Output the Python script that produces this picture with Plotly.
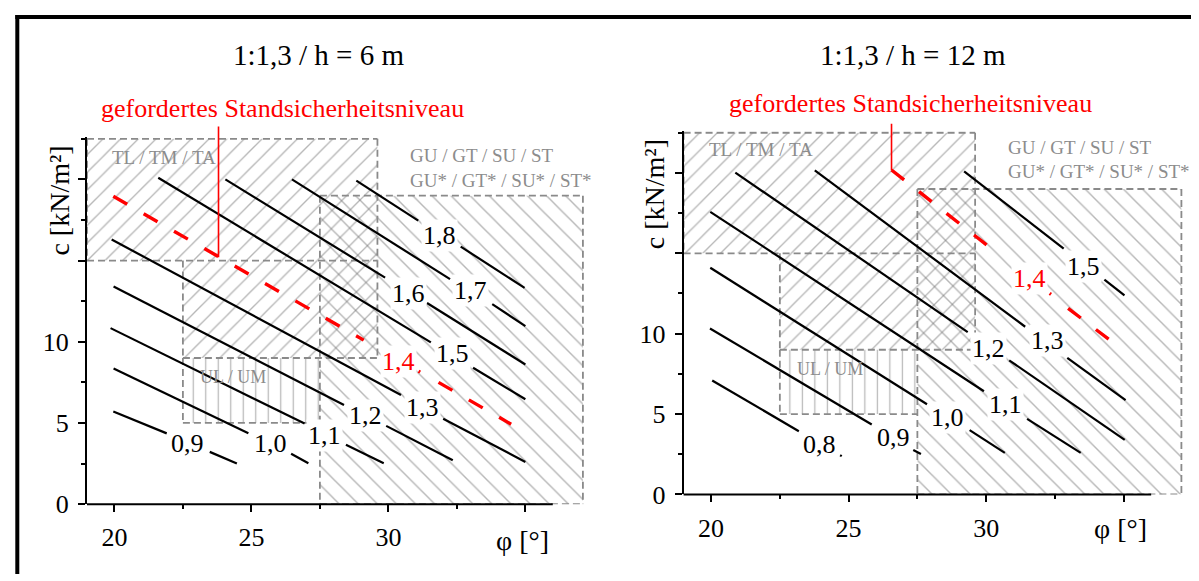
import plotly.graph_objects as go

# ---------------- data ----------------
# soil-group regions (identical in both panels): phi range [deg], c range [kN/m2]
REGION_PHI0 = [27.5, 19.0, 22.5, 22.5]
REGION_PHI1 = [37.1, 29.6, 29.6, 27.5]
REGION_C0 = [0.0, 15.0, 9.0, 5.0]
REGION_C1 = [19.0, 22.5, 15.0, 9.0]
REGION_HATCH = ['\\', '/', '/', '|']
REGION_SIDES = ['tlrb', 'tlrb', 'lrb', 'lb']   # dashed border sides drawn

# panel 1: 1:1,3 / h = 6 m  (isolines of the safety factor, None = gap for the label)
FS_6 = ['0,9', '1,0', '1,1', '1,2', '1,3', '1,4', '1,5', '1,6', '1,7', '1,8']
PHI_6 = [
    [19.96, 21.91, None, 23.48, 24.47],
    [19.97, 24.89, None, 26.45, 27.08],
    [19.86, 26.94, None, 28.45, 29.83],
    [19.97, 28.38, None, 29.92, 32.35],
    [19.90, 30.46, None, 32.00, 35.00],
    [19.96, 29.10, None, 31.10, 31.16, None, 31.83, 34.48],
    [21.60, 31.55, None, 33.09, 35.00],
    [24.05, 29.88, None, 31.41, 35.00],
    [26.48, 32.25, None, 33.79, 35.00],
    [28.83, 31.09, None, 32.64, 34.97],
]
C_6 = [
    [5.70, 4.36, None, 3.22, 2.50],
    [8.36, 4.36, None, 3.10, 2.52],
    [10.84, 4.96, None, 3.66, 2.52],
    [13.41, 6.10, None, 4.82, 2.70],
    [16.30, 6.72, None, 5.26, 2.60],
    [18.96, 10.10, None, 8.19, 8.13, None, 7.50, 4.92],
    [20.10, 9.96, None, 8.40, 6.46],
    [20.00, 13.95, None, 12.39, 8.60],
    [20.00, 13.86, None, 12.32, 10.96],
    [19.92, 17.46, None, 15.86, 13.32],
]
LBL_PHI_6 = [22.68, 25.68, 27.68, 29.18, 31.23, 30.37, 32.35, 30.74, 33.01, 31.85]
LBL_C_6 = [3.76, 3.76, 4.23, 5.45, 5.98, 8.76, 9.30, 13.00, 13.15, 16.56]
RED_6 = 5
POINTER_6 = dict(phi=23.8, c_top=23.35, c_bottom=15.2)

# panel 2: 1:1,3 / h = 12 m
FS_12 = ['0,8', '0,9', '1,0', '1,1', '1,2', '1,3', '1,4', '1,5']
PHI_12 = [
    [20.04, 23.19, None, 24.69, 24.75],
    [19.96, 25.84, None, 27.35, 27.63],
    [19.97, 27.85, None, 29.40, 30.68],
    [19.97, 29.92, None, 31.49, 33.44],
    [20.88, 29.33, None, 30.84, 35.04],
    [23.77, 31.42, None, 32.95, 35.07],
    [26.56, 30.25, None, 32.31, 32.36, None, 32.98, 34.58],
    [29.20, 32.82, None, 34.30, 35.03],
]
C_12 = [
    [7.09, 3.93, None, 2.44, 2.38],
    [10.32, 4.35, None, 2.76, 2.52],
    [14.10, 5.61, None, 4.00, 2.58],
    [17.58, 6.42, None, 4.70, 2.58],
    [20.02, 10.10, None, 8.34, 3.39],
    [20.16, 10.43, None, 8.50, 5.86],
    [20.18, 15.21, None, 12.51, 12.45, None, 11.58, 9.49],
    [20.10, 15.29, None, 13.36, 12.38],
]
LBL_PHI_12 = [23.95, 26.62, 28.60, 30.72, 30.10, 32.22, 31.56, 33.55]
LBL_C_12 = [3.09, 3.55, 4.78, 5.61, 9.05, 9.60, 13.46, 14.15]
RED_12 = 6
POINTER_12 = dict(phi=26.56, c_top=23.15, c_bottom=20.18)

X_TICKS = [20, 25, 30, 35]
X_TICKTEXT = ['20', '25', '30', '']
X_MINOR = [22.5, 27.5, 32.5]
Y_TICKS = [0, 5, 10, 15, 20]
Y_TICKTEXT = ['0', '5', '10', '', '']
Y_MINOR = [2.5, 7.5, 12.5, 17.5, 22.5]

# ---------------- styling ----------------
W, H = 1199, 581
SERIF = 'Liberation Serif, Times New Roman, serif'
GRAY_TXT = '#8c8c8c'
HATCH = '#6f6f6f'
BORDER = '#8a8a8a'
RED = '#ff0000'
X_RANGE = [19, 37.3]
X_AXIS_END = 36
Y_RANGE = [0, 22.6]

# pixel placement of the plot areas and texts
PANELS = [
    dict(xa='x', ya='y', px0=79.0, px1=580.4, py0=509.3, py1=132.6,
         title='1:1,3 / h = 6 m', title_px=(310, 48), req_px=(274.8, 103.3),
         xt_px=(514.7, 546.7), yt_px=(51.7, 198),
         phis=PHI_6, cs=C_6, labels=FS_6, lphi=LBL_PHI_6, lc=LBL_C_6,
         red=RED_6, pointer=POINTER_6,
         gu_c=21.45, gu2_c=19.95, tl_c=21.36, ul_c=7.8),
    dict(xa='x2', ya='y2', px0=675.6, px1=1178.9, py0=499.3, py1=126.4,
         title='1:1,3 / h = 12 m', title_px=(905.4, 48), req_px=(902.9, 98.3),
         xt_px=(1112.7, 534), yt_px=(646.7, 191.5),
         phis=PHI_12, cs=C_12, labels=FS_12, lphi=LBL_PHI_12, lc=LBL_C_12,
         red=RED_12, pointer=POINTER_12,
         gu_c=21.58, gu2_c=20.08, tl_c=21.43, ul_c=7.79),
]

HATCH_SIZE = {'/': 12.5, '\\': 13.5, '|': 12.5}
HATCH_SOL = {'/': 0.11, '\\': 0.105, '|': 0.1}

fig = go.Figure()
annotations = []
shapes = []


def paper(px, py):
    return px / W, 1 - py / H


for p in PANELS:
    xa, ya = p['xa'], p['ya']
    # hatched regions (fill only)
    for p0, p1, c0, c1, h in zip(REGION_PHI0, REGION_PHI1, REGION_C0, REGION_C1, REGION_HATCH):
        fig.add_trace(go.Scatter(
            x=[p0, p1, p1, p0, p0], y=[c0, c0, c1, c1, c0],
            mode='lines', fill='toself', fillcolor='rgba(0,0,0,0)',
            fillpattern=dict(shape=h, fgcolor=HATCH, bgcolor='rgba(0,0,0,0)',
                             size=HATCH_SIZE[h], solidity=HATCH_SOL[h]),
            line=dict(width=0, color='rgba(0,0,0,0)'),
            xaxis=xa, yaxis=ya, hoverinfo='skip', showlegend=False))
    # dashed region borders
    for p0, p1, c0, c1, sides in zip(REGION_PHI0, REGION_PHI1, REGION_C0, REGION_C1, REGION_SIDES):
        bx, by = [], []
        if 't' in sides:
            bx += [p0, p1, None]; by += [c1, c1, None]
        if 'r' in sides:
            bx += [p1, p1, None]; by += [c1, c0, None]
        if 'b' in sides:
            bx += [p0, p1, None]; by += [c0, c0, None]
        if 'l' in sides:
            bx += [p0, p0, None]; by += [c1, c0, None]
        fig.add_trace(go.Scatter(
            x=bx, y=by, mode='lines', connectgaps=False,
            line=dict(color=BORDER, width=1.8, dash='7px,4px'),
            xaxis=xa, yaxis=ya, hoverinfo='skip', showlegend=False))
    # isolines
    for i, (ph, cc) in enumerate(zip(p['phis'], p['cs'])):
        red = (i == p['red'])
        fig.add_trace(go.Scatter(
            x=ph, y=cc, mode='lines', connectgaps=False,
            line=dict(color=RED if red else 'black', width=3.4 if red else 2.2,
                      dash='16px,19px' if red else 'solid'),
            xaxis=xa, yaxis=ya, hoverinfo='skip', showlegend=False))
    # isoline labels
    for i, (t, lx, ly) in enumerate(zip(p['labels'], p['lphi'], p['lc'])):
        red = (i == p['red'])
        annotations.append(dict(
            x=lx, y=ly, xref=xa, yref=ya, text=t, showarrow=False,
            xanchor='center', yanchor='middle',
            font=dict(family=SERIF, size=26, color=RED if red else 'black'),
            bgcolor='white', borderpad=1))
    # region texts
    annotations += [
        dict(x=30.72, y=p['gu_c'], xref=xa, yref=ya, text='GU / GT / SU / ST',
             xanchor='left', yanchor='middle', showarrow=False,
             font=dict(family=SERIF, size=19, color=GRAY_TXT)),
        dict(x=30.72, y=p['gu2_c'], xref=xa, yref=ya, text='GU* / GT* / SU* / ST*',
             xanchor='left', yanchor='middle', showarrow=False,
             font=dict(family=SERIF, size=19, color=GRAY_TXT)),
        dict(x=19.85, y=p['tl_c'], xref=xa, yref=ya, text='TL / TM / TA',
             xanchor='left', yanchor='middle', showarrow=False,
             font=dict(family=SERIF, size=19, color=GRAY_TXT)),
        dict(x=23.06, y=p['ul_c'], xref=xa, yref=ya, text='UL / UM',
             xanchor='left', yanchor='middle', showarrow=False,
             font=dict(family=SERIF, size=18, color=GRAY_TXT)),
    ]
    # required safety level text + pointer
    rx, ry = paper(*p['req_px'])
    annotations.append(dict(x=rx, y=ry, xref='paper', yref='paper',
                            xanchor='center', yanchor='middle',
                            text='gefordertes Standsicherheitsniveau', showarrow=False,
                            font=dict(family=SERIF, size=26, color=RED)))
    pt = p['pointer']
    annotations.append(dict(x=pt['phi'], y=pt['c_bottom'], xref=xa, yref=ya,
                            ax=pt['phi'], ay=pt['c_top'], axref=xa, ayref=ya,
                            text='', showarrow=True, arrowhead=0, arrowwidth=1.6,
                            arrowcolor=RED, standoff=0, startstandoff=0))
    # titles
    tx, ty = paper(*p['title_px'])
    annotations.append(dict(x=tx, y=ty, xref='paper', yref='paper', text=p['title'],
                            xanchor='center', yanchor='middle', showarrow=False,
                            font=dict(family=SERIF, size=29, color='black')))
    tx, ty = paper(*p['xt_px'])
    annotations.append(dict(x=tx, y=ty, xref='paper', yref='paper', text='φ [°]',
                            xanchor='center', yanchor='middle', showarrow=False,
                            font=dict(family=SERIF, size=28, color='black')))
    tx, ty = paper(*p['yt_px'])
    annotations.append(dict(x=tx, y=ty, xref='paper', yref='paper', text='c [kN/m²]',
                            xanchor='center', yanchor='middle',
                            textangle=-90, showarrow=False,
                            font=dict(family=SERIF, size=28, color='black')))
    # x-axis line only up to phi = 36
    shapes.append(dict(type='line', xref=xa + ' domain', yref=ya + ' domain',
                       x0=0, x1=(X_AXIS_END - X_RANGE[0]) / (X_RANGE[1] - X_RANGE[0]),
                       y0=0, y1=0, line=dict(color='black', width=2)))

# outer frame (left and top edges visible)
shapes.append(dict(type='line', xref='paper', yref='paper', x0=9.3 / W, x1=9.3 / W,
                   y0=0, y1=1 - 7.3 / H, line=dict(color='black', width=4)))
shapes.append(dict(type='line', xref='paper', yref='paper', x0=7.3 / W, x1=1,
                   y0=1 - 9.3 / H, y1=1 - 9.3 / H, line=dict(color='black', width=4)))

axis_font = dict(family=SERIF, size=26, color='black')
layout_axes = {}
for k, p in enumerate(PANELS):
    sfx = '' if k == 0 else '2'
    layout_axes['xaxis' + sfx] = dict(
        domain=[p['px0'] / W, p['px1'] / W], range=X_RANGE, anchor=p['ya'],
        showline=False, showgrid=False, zeroline=False,
        ticks='outside', tickmode='array', tickvals=X_TICKS, ticktext=X_TICKTEXT,
        ticklen=7, tickwidth=1.6, tickcolor='black', tickfont=axis_font,
        ticklabelstandoff=3,
        minor=dict(ticks='outside', tickmode='array', tickvals=X_MINOR, ticklen=4,
                   tickwidth=1.6, tickcolor='black', showgrid=False))
    layout_axes['yaxis' + sfx] = dict(
        domain=[1 - p['py0'] / H, 1 - p['py1'] / H], range=Y_RANGE, anchor=p['xa'],
        showline=True, linewidth=2, linecolor='black', showgrid=False, zeroline=False,
        ticks='outside', tickmode='array', tickvals=Y_TICKS, ticktext=Y_TICKTEXT,
        ticklen=7, tickwidth=1.6, tickcolor='black', tickfont=axis_font,
        ticklabelstandoff=4,
        minor=dict(ticks='outside', tickmode='array', tickvals=Y_MINOR, ticklen=4,
                   tickwidth=1.6, tickcolor='black', showgrid=False))

fig.update_layout(
    width=W, height=H, margin=dict(l=0, r=0, t=0, b=0),
    paper_bgcolor='white', plot_bgcolor='white',
    showlegend=False, annotations=annotations, shapes=shapes,
    font=dict(family=SERIF), **layout_axes)

fig.write_html('out.html')
